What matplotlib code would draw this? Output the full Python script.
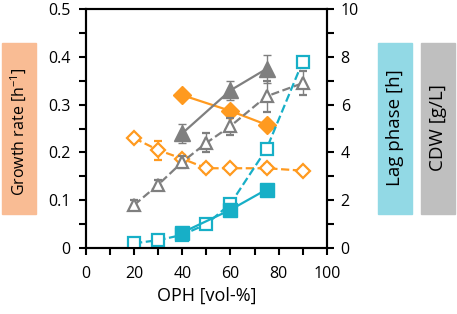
import matplotlib
matplotlib.use('Agg')
import matplotlib.pyplot as plt
from matplotlib.patches import Rectangle
from matplotlib.ticker import MultipleLocator

plt.rcParams['font.family'] = ['Open Sans', 'DejaVu Sans']
plt.rcParams['mathtext.default'] = 'regular'

# growth rate (left axis)
x_short = [40, 60, 75]
x_long = [20, 30, 40, 50, 60, 75, 90]
gr_solid = [0.32, 0.287, 0.258]
gr_solid_err = [0.004, 0.004, 0.004]
gr_dash = [0.23, 0.205, 0.187, 0.167, 0.167, 0.167, 0.162]
gr_dash_err = [0.005, 0.02, 0.008, 0.008, 0.006, 0.008, 0.004]

# CDW (right axis)
cdw_solid = [4.8, 6.6, 7.5]
cdw_solid_err = [0.4, 0.4, 0.6]
cdw_dash = [1.8, 2.65, 3.6, 4.4, 5.1, 6.35, 6.9]
cdw_dash_err = [0.2, 0.2, 0.25, 0.4, 0.35, 0.65, 0.5]

# lag phase (right axis)
lag_solid = [0.65, 1.6, 2.45]
lag_solid_err = [0.05, 0.2, 0.2]
lag_dash = [0.2, 0.33, 0.55, 1.0, 1.85, 4.15, 7.8]
lag_dash_err = [0.05, 0.1, 0.05, 0.1, 0.15, 0.2, 0.2]

orange = '#FF9A1F'
gray = '#7F7F7F'
cyan = '#17AFC7'

fig = plt.figure(figsize=(4.57, 3.14), dpi=100)
ax = fig.add_axes([0.188, 0.21, 0.527, 0.761])
ax2 = ax.twinx()

lw = 1.6
ax.errorbar(x_long, gr_dash, yerr=gr_dash_err, color=orange, ls='--', lw=lw,
            marker='D', ms=7, mfc='white', mec=orange, mew=1.6, capsize=3, elinewidth=1)
ax.errorbar(x_short, gr_solid, yerr=gr_solid_err, color=orange, ls='-', lw=lw,
            marker='D', ms=9, capsize=3, elinewidth=1)

ax2.errorbar(x_long, cdw_dash, yerr=cdw_dash_err, color=gray, ls='--', lw=lw,
             marker='^', ms=9, mfc='white', mec=gray, mew=1.6, capsize=3, elinewidth=1)
ax2.errorbar(x_short, cdw_solid, yerr=cdw_solid_err, color=gray, ls='-', lw=lw,
             marker='^', ms=11, capsize=3, elinewidth=1)
ax2.errorbar(x_long, lag_dash, yerr=lag_dash_err, color=cyan, ls='--', lw=lw,
             marker='s', ms=8, mfc='white', mec=cyan, mew=1.6, capsize=2, elinewidth=1)
ax2.errorbar(x_short, lag_solid, yerr=lag_solid_err, color=cyan, ls='-', lw=lw,
             marker='s', ms=10, capsize=2, elinewidth=1)

ax.set_xlim(0, 100)
ax.set_ylim(0, 0.5)
ax2.set_ylim(0, 10)
ax.xaxis.set_major_locator(MultipleLocator(20))
ax.xaxis.set_minor_locator(MultipleLocator(10))
ax.yaxis.set_minor_locator(MultipleLocator(0.05))
ax2.yaxis.set_major_locator(MultipleLocator(2))
ax2.yaxis.set_minor_locator(MultipleLocator(1))
ax.set_yticks([0, 0.1, 0.2, 0.3, 0.4, 0.5])
ax.set_yticklabels(['0', '0.1', '0.2', '0.3', '0.4', '0.5'])

for a in (ax, ax2):
    for s in a.spines.values():
        s.set_linewidth(1.5)
    a.tick_params(which='both', direction='out', width=1.5, length=5,
                  labelsize=11.5, pad=6)
ax.tick_params(axis='x', which='both', top=False, pad=8)
ax2.tick_params(axis='y', pad=5)

ax.set_xlabel('OPH [vol-%]', fontsize=13, labelpad=3)

# side labels in coloured boxes
boxes = [
    (2, 'Growth rate [h$^{-1}$]', '#F9BC94', 11.5, 132),
    (378, 'Lag phase [h]', '#92D9E5', 13.5, 128),
    (421, 'CDW [g/L]', '#BFBFBF', 13.5, 128),
]
W, H = 457, 314
for x0, label, col, fs, yc in boxes:
    fig.patches.append(Rectangle((x0 / W, (H - 214) / H), 34 / W, 171 / H,
                                 transform=fig.transFigure, color=col, zorder=0))
    fig.text((x0 + 17) / W, (H - yc) / H, label, rotation=90,
             ha='center', va='center', fontsize=fs)

fig.savefig('out.png', dpi=100)
